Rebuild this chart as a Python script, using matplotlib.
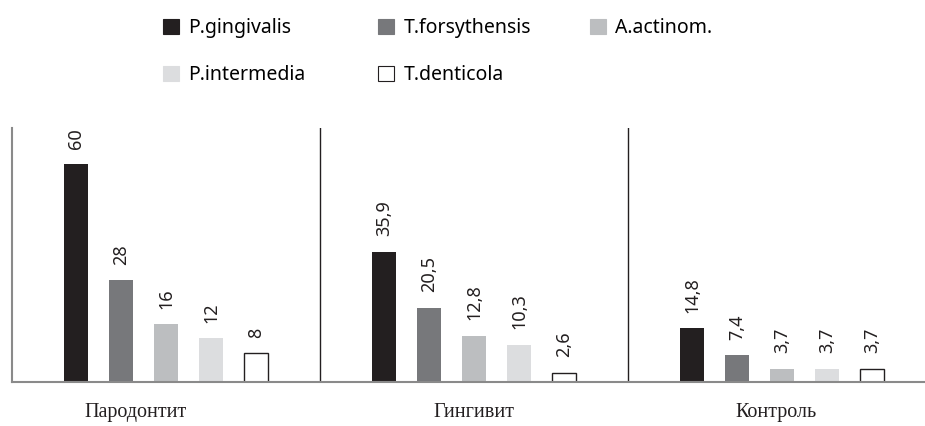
import matplotlib.pyplot as plt
import numpy as np
from matplotlib.patches import Patch

# Частота выявления пародонтопатогенов по группам, %
groups = ['Пародонтит', 'Гингивит', 'Контроль']
species = ['P.gingivalis', 'T.forsythensis', 'A.actinom.', 'P.intermedia', 'T.denticola']
values = {
    'P.gingivalis':   [60, 35.9, 14.8],
    'T.forsythensis': [28, 20.5, 7.4],
    'A.actinom.':     [16, 12.8, 3.7],
    'P.intermedia':   [12, 10.3, 3.7],
    'T.denticola':    [8, 2.6, 3.7],
}
colors = ['#231f20', '#77787b', '#bcbec0', '#dcdddf', 'white']

plt.rcParams['font.family'] = ['Noto Sans', 'DejaVu Sans']

fig = plt.figure(figsize=(9.25, 4.26), dpi=100)
ax = fig.add_axes([12 / 925, (426 - 382) / 426, 924 / 925, (382 - 128) / 426])

x = np.arange(len(groups))
step = 45 / 308
width = 24 / 308
handles = []
for j, (name, color) in enumerate(zip(species, colors)):
    pos = x + (j - 2) * step
    edge = '#231f20' if color == 'white' else color
    bars = ax.bar(pos, values[name], width, color=color, edgecolor=edge,
                  linewidth=1.0 if color == 'white' else 0)
    for b, v in zip(bars, values[name]):
        ax.annotate(f'{v:g}'.replace('.', ','), (b.get_x() + b.get_width() / 2, v),
                    xytext=(0, 11), textcoords='offset points',
                    rotation=90, ha='center', va='bottom', fontsize=13, color='#231f20')
    handles.append(Patch(facecolor=color, edgecolor=edge, linewidth=0.8, label=name))

ax.set_xlim(-0.5, 2.5)
ax.set_ylim(0, 70)

# разделители групп
for sep in [0.5, 1.5]:
    ax.axvline(sep, color='#231f20', linewidth=1.0)

for s in ['top', 'right']:
    ax.spines[s].set_visible(False)
ax.spines['left'].set_color('#8a8a8a')
ax.spines['bottom'].set_color('#8a8a8a')
ax.spines['left'].set_linewidth(1.5)
ax.spines['bottom'].set_linewidth(1.5)
ax.set_yticks([])
ax.set_xticks([-0.1, 1.0, 1.98])
ax.set_xticklabels(groups, family='Liberation Serif', fontsize=14.5, color='#231f20')
ax.tick_params(axis='x', length=0, pad=15)

# легенда: три колонки
legend_cols = [([0, 3], 163), ([1, 4], 378), ([2], 590)]
for idx, px in legend_cols:
    leg = fig.legend(handles=[handles[i] for i in idx], loc='upper left',
                     bbox_to_anchor=(px / 925, 1 - 18 / 426), frameon=False,
                     fontsize=14, handlelength=0.8, handleheight=0.8,
                     handletextpad=0.5, labelspacing=1.4, borderpad=0, borderaxespad=0)

fig.savefig('out.png', dpi=100)
